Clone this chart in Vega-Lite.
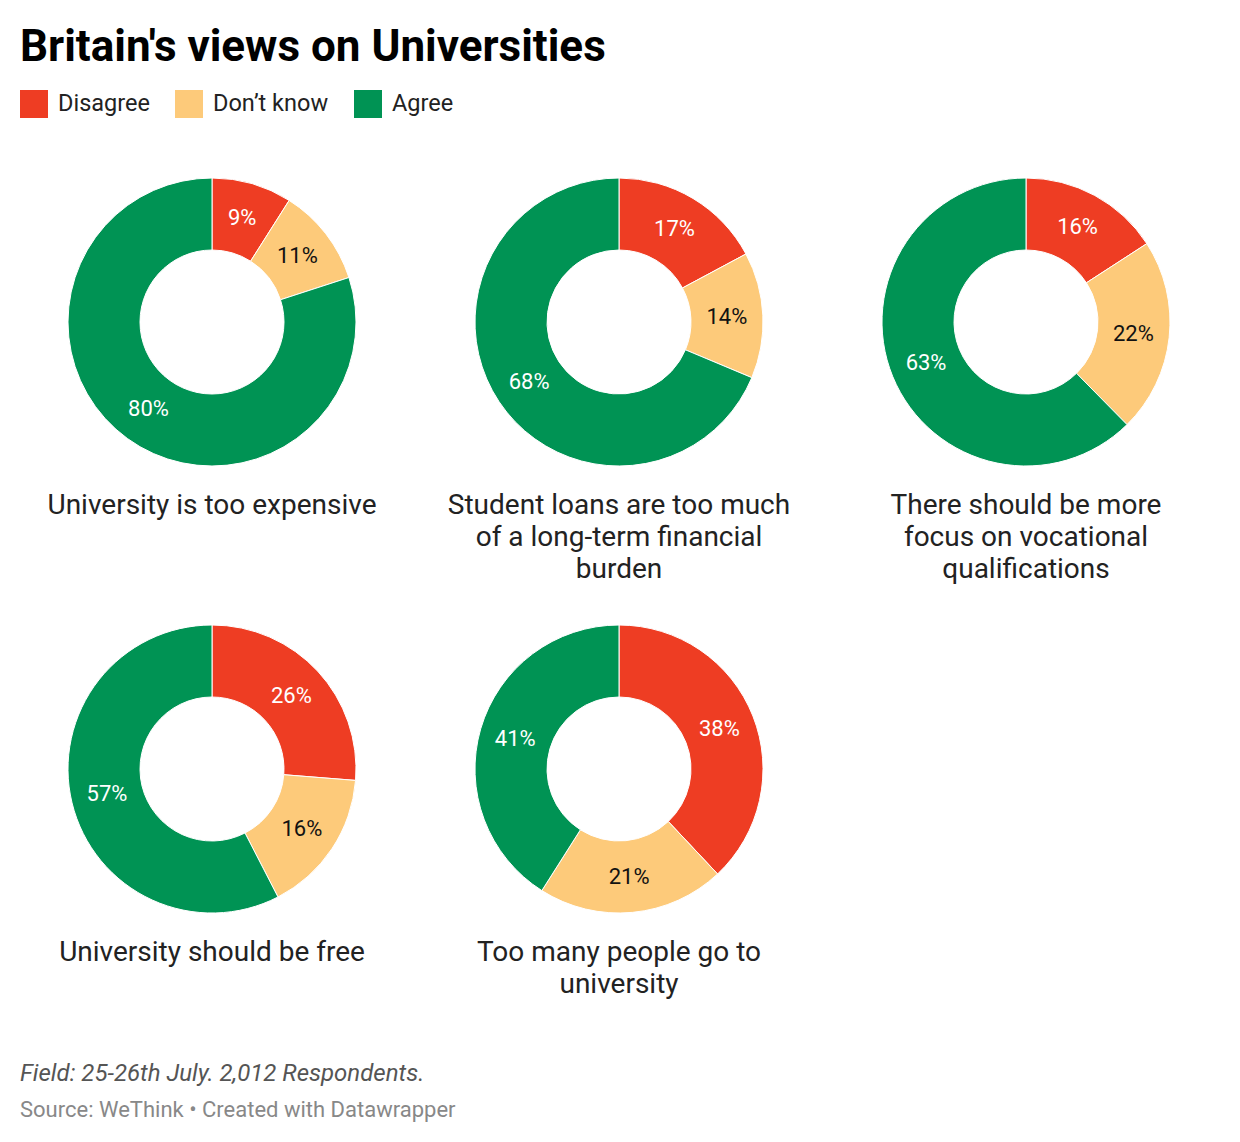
{
  "$schema": "https://vega.github.io/schema/vega-lite/v6.json",
  "background": "white",
  "padding": {"left": 20, "top": 26, "right": 5, "bottom": 5},
  "title": {"text": "Britain's views on Universities", "anchor": "start", "font": "Roboto", "fontSize": 44, "fontWeight": "bold", "color": "#000000", "offset": 20},
  "config": {"view": {"stroke": null}, "font": "Roboto"},
  "vconcat": [
    {
      "data": {"values": [
        {"question": "University is too expensive", "answer": "Disagree", "value": 0.09},
        {"question": "University is too expensive", "answer": "Don’t know", "value": 0.11},
        {"question": "University is too expensive", "answer": "Agree", "value": 0.80},
        {"question": "Student loans are too much\nof a long-term financial\nburden", "answer": "Disagree", "value": 0.17},
        {"question": "Student loans are too much\nof a long-term financial\nburden", "answer": "Don’t know", "value": 0.14},
        {"question": "Student loans are too much\nof a long-term financial\nburden", "answer": "Agree", "value": 0.68},
        {"question": "There should be more\nfocus on vocational\nqualifications", "answer": "Disagree", "value": 0.16},
        {"question": "There should be more\nfocus on vocational\nqualifications", "answer": "Don’t know", "value": 0.22},
        {"question": "There should be more\nfocus on vocational\nqualifications", "answer": "Agree", "value": 0.63},
        {"question": "University should be free", "answer": "Disagree", "value": 0.26},
        {"question": "University should be free", "answer": "Don’t know", "value": 0.16},
        {"question": "University should be free", "answer": "Agree", "value": 0.57},
        {"question": "Too many people go to\nuniversity", "answer": "Disagree", "value": 0.38},
        {"question": "Too many people go to\nuniversity", "answer": "Don’t know", "value": 0.21},
        {"question": "Too many people go to\nuniversity", "answer": "Agree", "value": 0.41}
      ]},
      "transform": [
        {"calculate": "indexof(['Disagree', 'Don’t know', 'Agree'], datum.answer)", "as": "answer_order"}
      ],
      "title": {"text": "Field: 25-26th July. 2,012 Respondents.", "subtitle": "Source: WeThink • Created with Datawrapper", "orient": "bottom", "anchor": "start", "font": "Roboto", "fontStyle": "italic", "fontWeight": "normal", "fontSize": 24, "color": "#555555", "subtitleFont": "Roboto", "subtitleFontSize": 22, "subtitleColor": "#888888", "subtitlePadding": 14, "offset": 63},
      "facet": {
        "field": "question", "type": "nominal",
        "sort": ["University is too expensive", "Student loans are too much\nof a long-term financial\nburden", "There should be more\nfocus on vocational\nqualifications", "University should be free", "Too many people go to\nuniversity"],
        "header": {"title": null, "labelOrient": "bottom", "labelExpr": "split(datum.label, '\\n')", "labelFont": "Roboto", "labelFontSize": 28, "labelColor": "#222222", "labelLineHeight": 32, "labelPadding": 20, "labelLimit": 0}
      },
      "columns": 3,
      "spacing": {"row": 35, "column": 23},
      "spec": {
        "width": 384,
        "height": 300,
        "encoding": {
          "theta": {"field": "value", "type": "quantitative", "stack": "normalize"},
          "order": {"field": "answer_order", "type": "quantitative", "sort": "ascending"},
          "color": {"field": "answer", "type": "nominal", "sort": ["Disagree", "Don’t know", "Agree"],
            "scale": {"domain": ["Disagree", "Don’t know", "Agree"], "range": ["#ee3d23", "#fdca7a", "#009354"]},
            "legend": {"title": null, "orient": "top", "direction": "horizontal", "symbolType": "square", "symbolSize": 784, "symbolStrokeWidth": 0, "labelFont": "Roboto", "labelFontSize": 23.5, "labelColor": "#222222", "labelOffset": 10, "columnPadding": 25, "offset": 54, "padding": 0}}
        },
        "layer": [
          {"mark": {"type": "arc", "outerRadius": 144, "innerRadius": 72, "stroke": "white", "strokeWidth": 1}},
          {"mark": {"type": "text", "radius": 108, "font": "Roboto", "fontSize": 22},
           "encoding": {
             "text": {"field": "value", "type": "quantitative", "format": ".0%"},
             "color": {"condition": {"test": "datum.answer == 'Don’t know'", "value": "#111111"}, "value": "#ffffff"}
           }}
        ]
      }
    }
  ]
}
